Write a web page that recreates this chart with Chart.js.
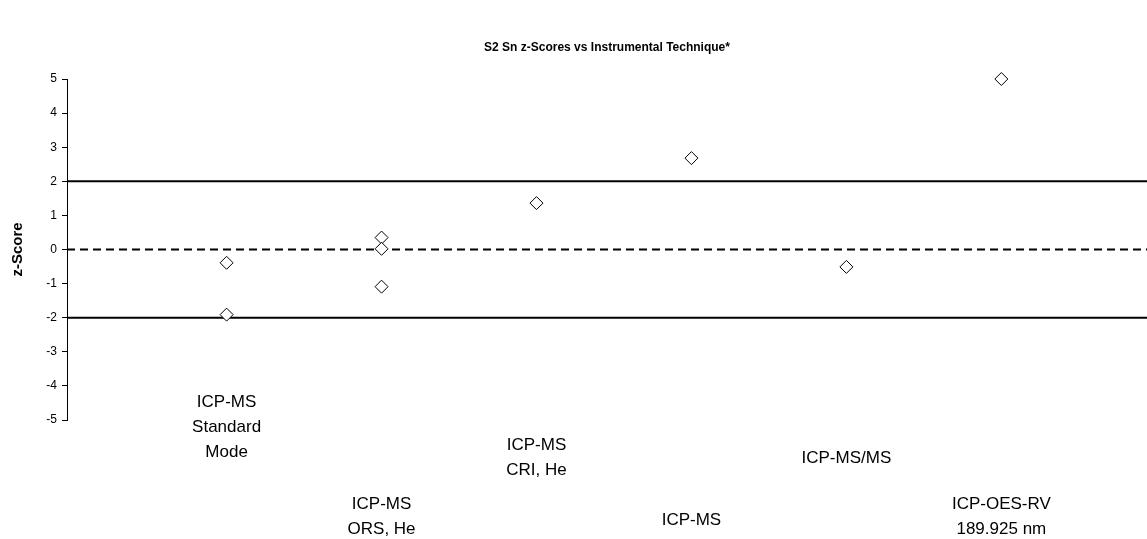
<!DOCTYPE html>
<html>
<head>
<meta charset="utf-8">
<script src="https://cdn.jsdelivr.net/npm/chart.js@4.4.1/dist/chart.umd.min.js"></script>
<style>
  html, body { margin: 0; padding: 0; background: #ffffff; }
  #wrap { width: 1147px; height: 539px; position: relative; }
</style>
</head>
<body>
<div id="wrap"><canvas id="c" width="1147" height="539"></canvas></div>
<script>
// ---- data ----
const categories = [
  ["ICP-MS", "Standard", "Mode"],
  ["ICP-MS", "ORS, He"],
  ["ICP-MS", "CRI, He"],
  ["ICP-MS"],
  ["ICP-MS/MS"],
  ["ICP-OES-RV", "189.925 nm"]
];
const pointCategory = [1, 1, 2, 2, 2, 3, 4, 5, 6];
const zScores = [-0.39, -1.91, 0.35, 0.02, -1.09, 1.36, 2.68, -0.51, 5.0];
const yTicks = [5, 4, 3, 2, 1, 0, -1, -2, -3, -4, -5];
const limitLines = [2, -2];
const centerLine = [0];

// ---- layout / style (not data) ----
const X_MIN = -0.03, X_MAX = 6.94;
const labelRowY = [402, 504, 445, 520, 458, 504]; // first-line centre per category
const LABEL_LINE = 25;
const FONT = '"Liberation Sans", Arial, sans-serif';

const points = pointCategory.map((c, i) => ({ x: c, y: zScores[i] }));
function hline(v) { return [{ x: X_MIN, y: v }, { x: X_MAX, y: v }]; }

const datasets = [];
limitLines.forEach(v => datasets.push({
  type: 'line', data: hline(v), borderColor: '#000', borderWidth: 2,
  pointRadius: 0, showLine: true, fill: false, order: 2
}));
centerLine.forEach(v => datasets.push({
  type: 'line', data: hline(v), borderColor: '#000', borderWidth: 2,
  borderDash: [8, 5], pointRadius: 0, showLine: true, fill: false, order: 2
}));
datasets.push({
  type: 'scatter', data: points, pointStyle: 'rectRot', pointRadius: 6.5,
  backgroundColor: '#fff', borderColor: '#000', borderWidth: 1, order: 1, clip: false
});

const catLabels = {
  id: 'catLabels',
  afterDraw(chart) {
    const ctx = chart.ctx, xs = chart.scales.x;
    ctx.save();
    ctx.fillStyle = '#000';
    ctx.font = '17px ' + FONT;
    ctx.textAlign = 'center';
    ctx.textBaseline = 'middle';
    categories.forEach((lines, i) => {
      const x = xs.getPixelForValue(i + 1);
      lines.forEach((t, k) => ctx.fillText(t, x, labelRowY[i] + k * LABEL_LINE));
    });
    ctx.restore();
  }
};

new Chart(document.getElementById('c'), {
  type: 'scatter',
  data: { datasets },
  plugins: [catLabels],
  options: {
    responsive: false,
    animation: false,
    layout: { padding: 0, autoPadding: false },
    plugins: {
      legend: { display: false },
      tooltip: { enabled: false },
      title: {
        display: true,
        fullSize: false,
        text: 'S2 Sn z-Scores vs Instrumental Technique*',
        color: '#000',
        font: { family: FONT, size: 12, weight: 'bold', lineHeight: 1.2 },
        padding: { top: 40, bottom: 24.6 }
      }
    },
    scales: {
      x: {
        type: 'linear', min: X_MIN, max: X_MAX,
        border: { display: false },
        grid: { display: false },
        ticks: { display: false },
        afterFit(s) { s.height = 119; }
      },
      y: {
        min: -5, max: 5,
        afterBuildTicks(s) { s.ticks = yTicks.map(v => ({ value: v })); },
        border: { display: true, color: '#000', width: 1 },
        grid: { drawOnChartArea: false, drawTicks: true, tickLength: 5, color: '#000', tickWidth: 1 },
        ticks: {
          color: '#000', padding: 5,
          font: { family: FONT, size: 12 }
        },
        title: {
          display: true, text: 'z-Score', color: '#000',
          padding: { top: 9, bottom: 4 },
          font: { family: FONT, size: 15, weight: 'bold' }
        },
        afterFit(s) { s.width = 67; }
      }
    }
  }
});
</script>
</body>
</html>
